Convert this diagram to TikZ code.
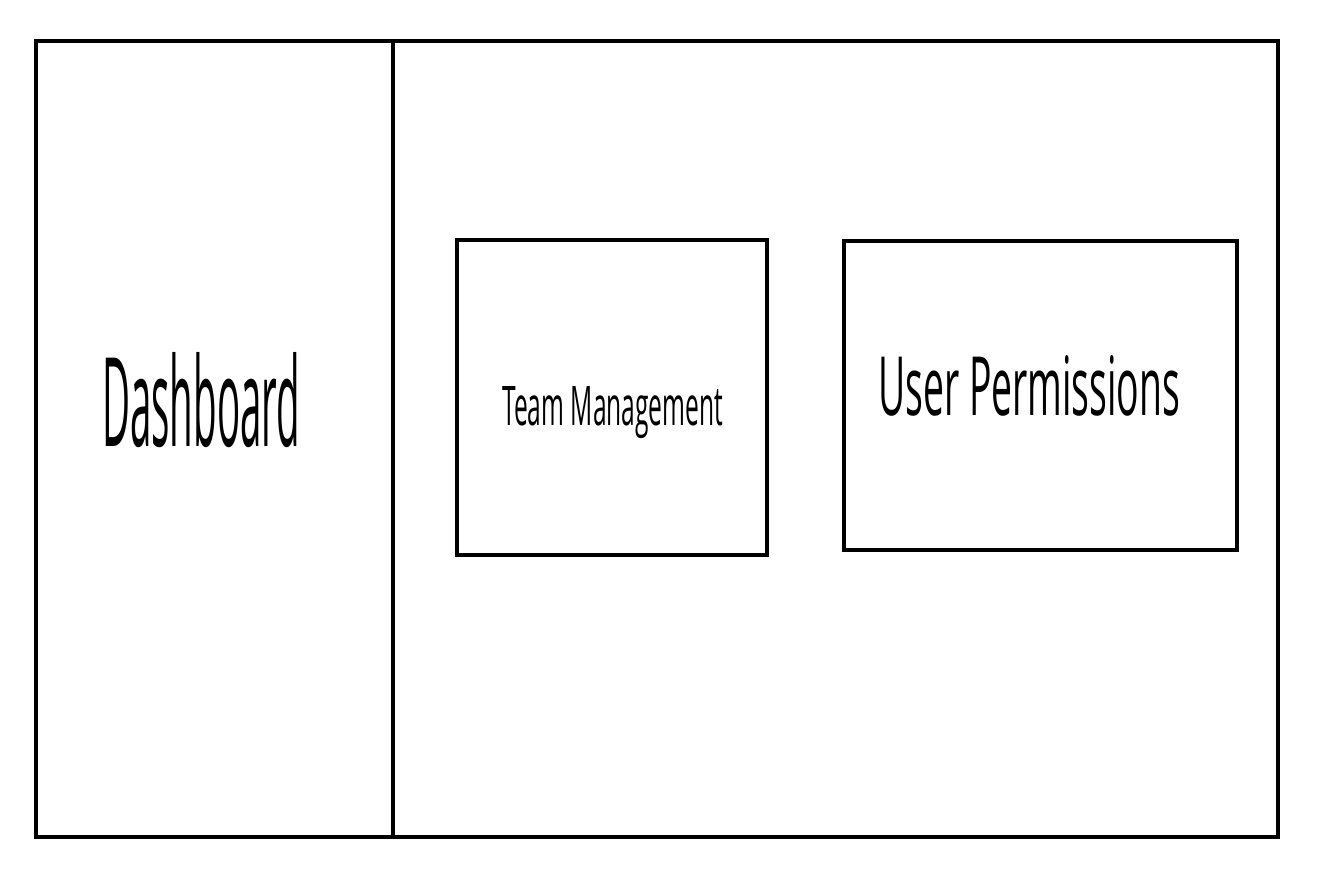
\documentclass[tikz,border=0pt]{standalone}
\usepackage{fontspec}
\setmainfont{Open Sans}
\usepackage{graphicx}
\begin{document}
\begin{tikzpicture}[x=1pt,y=-1pt,
  frame/.style={draw=black,line width=4pt},
  lbl/.style={inner sep=0pt,anchor=base west}]
\useasboundingbox (0,0) rectangle (1342,880);
\draw[frame] (36,41) rectangle (1278,837);
\draw[frame] (393,41) -- (393,837);
\node[frame,inner sep=0pt,minimum width=310pt,minimum height=315pt] (team) at (612,397.5) {};
\node[frame,inner sep=0pt,minimum width=393pt,minimum height=309pt] (perm) at (1040.5,395.5) {};
\node[lbl] (dash) at (102,446) {\resizebox{198pt}{94pt}{Dashboard}};
\node[lbl] (teamlbl) at (502,425) {\resizebox{221pt}{39pt}{Team Management}};
\node[lbl] (permlbl) at (878,415) {\resizebox{302pt}{60pt}{User Permissions}};
\end{tikzpicture}
\end{document}
